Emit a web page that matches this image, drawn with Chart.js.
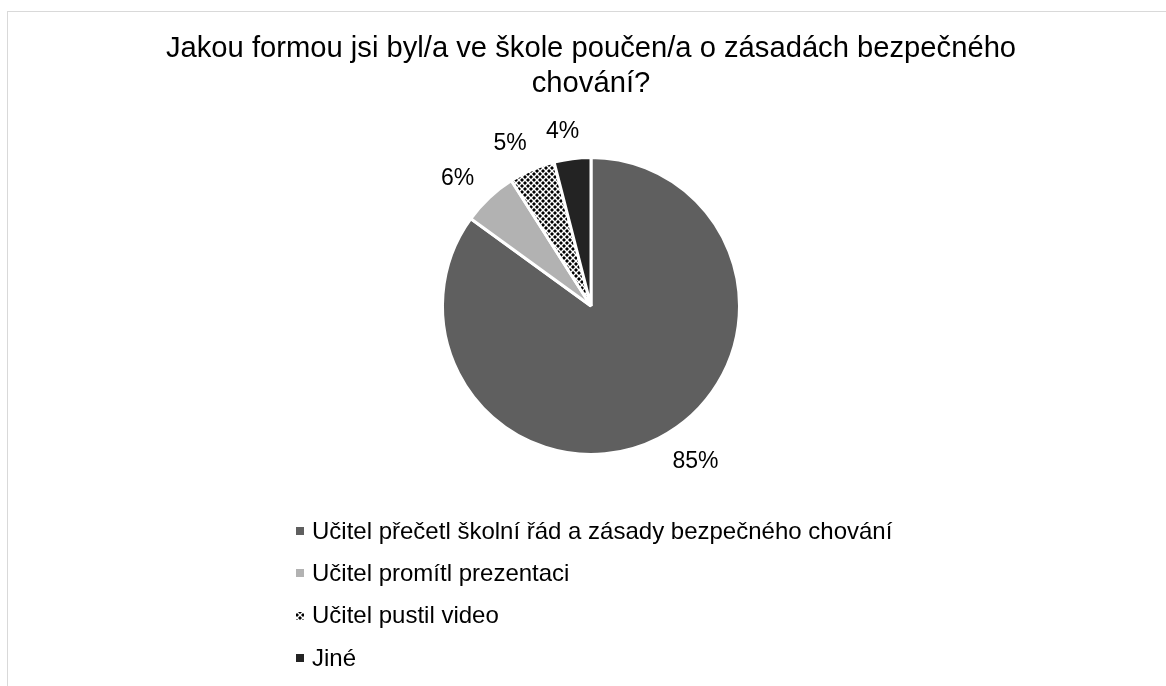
<!DOCTYPE html>
<html>
<head>
<meta charset="utf-8">
<script src="https://cdn.jsdelivr.net/npm/chart.js@4"></script>
<style>
  html, body { margin: 0; padding: 0; background: #ffffff; }
  #wrap { width: 1166px; height: 686px; position: relative; }
</style>
</head>
<body>
<div id="wrap"><canvas id="c" width="1166" height="686"></canvas></div>
<script>
const titleLines = ["Jakou formou jsi byl/a ve škole poučen/a o zásadách bezpečného", "chování?"];
const categories = [
  "Učitel přečetl školní řád a zásady bezpečného chování",
  "Učitel promítl prezentaci",
  "Učitel pustil video",
  "Jiné"
];
const percentValues = [85, 6, 5, 4];

const FONT = "'Liberation Sans', Arial, Helvetica, sans-serif";

function makePattern() {
  const p = document.createElement('canvas');
  p.width = 6; p.height = 6;
  const g = p.getContext('2d');
  g.fillStyle = '#ffffff';
  g.fillRect(0, 0, 6, 6);
  g.fillStyle = '#000000';
  const diamond = (cx, cy, r) => {
    g.beginPath();
    g.moveTo(cx, cy - r); g.lineTo(cx + r, cy); g.lineTo(cx, cy + r); g.lineTo(cx - r, cy);
    g.closePath(); g.fill();
  };
  [[0,0],[6,0],[0,6],[6,6],[3,3]].forEach(([x,y]) => diamond(x, y, 2));
  return g.createPattern(p, 'repeat');
}
const ctx = document.getElementById('c').getContext('2d');
const pattern = makePattern();
const sliceColors = ['#5f5f5f', '#b2b2b2', pattern, '#232323'];

const framePlugin = {
  id: 'frame',
  beforeDraw(chart) {
    const c = chart.ctx;
    c.save();
    c.fillStyle = '#ffffff';
    c.fillRect(0, 0, chart.width, chart.height);
    c.strokeStyle = '#d9d9d9';
    c.lineWidth = 1;
    c.strokeRect(7.5, 11.5, chart.width + 20, chart.height + 20);
    c.restore();
  }
};

const pctLabelPlugin = {
  id: 'pctLabels',
  afterDatasetsDraw(chart, args, opts) {
    const c = chart.ctx;
    const meta = chart.getDatasetMeta(0);
    const data = chart.data.datasets[0].data;
    const total = data.reduce((a, b) => a + b, 0);
    const bw = chart.data.datasets[0].borderWidth || 0;
    c.save();
    c.font = `${opts.size}px ${FONT}`;
    c.fillStyle = '#000000';
    c.textAlign = 'center';
    c.textBaseline = 'middle';
    meta.data.forEach((arc, i) => {
      const p = arc.getProps(['x', 'y', 'startAngle', 'endAngle', 'outerRadius'], true);
      const shift = (opts.angleShift[i] || 0) * Math.PI / 180;
      const mid = (p.startAngle + p.endAngle) / 2 + shift;
      const dx = Math.cos(mid), dy = Math.sin(mid);
      const text = Math.round(data[i] / total * 100) + '%';
      const w = c.measureText(text).width;
      const h = opts.size * 0.74;
      const extent = (w / 2) * Math.abs(dx) + (h / 2) * Math.abs(dy);
      const d = p.outerRadius - bw / 2 + opts.gap + extent;
      c.fillText(text, p.x + dx * d, p.y + dy * d + 1);
    });
    c.restore();
  }
};

const legendPlugin = {
  id: 'vertLegend',
  afterDraw(chart, args, opts) {
    const c = chart.ctx;
    const ds = chart.data.datasets[0];
    c.save();
    c.font = `${opts.size}px ${FONT}`;
    const widths = chart.data.labels.map(l => c.measureText(l).width);
    const blockW = opts.box + opts.boxGap + Math.max(...widths);
    const cx = (chart.chartArea.left + chart.chartArea.right) / 2 + opts.xShift;
    const left = Math.round(cx - blockW / 2);
    chart.data.labels.forEach((label, i) => {
      const y = chart.chartArea.bottom + opts.firstOffset + i * opts.rowGap;
      c.fillStyle = ds.backgroundColor[i];
      c.fillRect(left, Math.round(y - opts.box / 2), opts.box, opts.box);
      c.fillStyle = '#000000';
      c.textAlign = 'left';
      c.textBaseline = 'middle';
      c.fillText(label, left + opts.box + opts.boxGap, y + 1);
    });
    c.restore();
  }
};

new Chart(ctx, {
  type: 'pie',
  data: {
    labels: categories,
    datasets: [{
      data: percentValues,
      backgroundColor: sliceColors,
      borderColor: '#ffffff',
      borderWidth: 3,
      hoverOffset: 0
    }]
  },
  options: {
    responsive: false,
    animation: false,
    events: [],
    layout: { padding: { top: 0, left: 16, right: 0, bottom: 230 } },
    plugins: {
      legend: { display: false },
      tooltip: { enabled: false },
      title: {
        display: true,
        text: titleLines,
        color: '#000000',
        font: { family: FONT, size: 29.2, weight: 'normal', lineHeight: 1.2 },
        padding: { top: 31.4, bottom: 54.5 }
      },
      pctLabels: { size: 23, gap: 20, angleShift: [-7, -3, -3, -2] },
      vertLegend: { size: 24, box: 8, boxGap: 8, firstOffset: 75, rowGap: 42.3, xShift: 3 }
    }
  },
  plugins: [framePlugin, pctLabelPlugin, legendPlugin]
});
</script>
</body>
</html>
